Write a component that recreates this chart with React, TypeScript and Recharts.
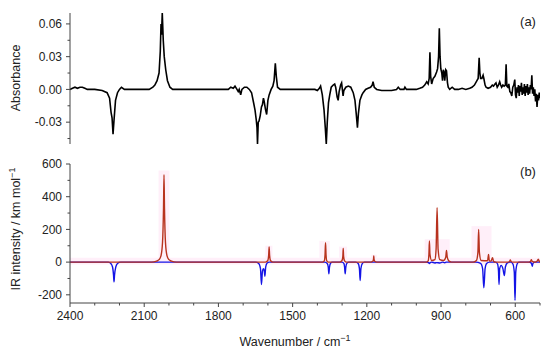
import { Line, LineChart, ReferenceArea, XAxis, YAxis } from "recharts";

// (a) measured difference spectrum: [wavenumber, absorbance]
const absorbance: [number, number][] = [
  [2400, 0.0], [2390, 0.001], [2380, 0.002], [2370, 0.001], [2360, 0.002], [2350, 0.002], [2340, 0.001],
  [2330, 0.0], [2300, 0.0], [2270, -0.001], [2250, -0.003], [2240, -0.008], [2234, -0.021], [2230, -0.026],
  [2226, -0.041], [2222, -0.028], [2216, -0.01], [2208, -0.003], [2200, 0.0], [2192, 0.002], [2180, 0.0],
  [2150, 0.0], [2100, 0.0], [2080, 0.0], [2065, 0.002], [2057, 0.004], [2048, 0.008], [2040, 0.015],
  [2035, 0.035], [2032, 0.06], [2030, 0.05], [2027, 0.07], [2023, 0.045], [2019, 0.03], [2013, 0.018],
  [2006, 0.008], [1996, 0.002], [1985, 0.0], [1900, 0.0], [1800, 0.0], [1760, 0.0], [1750, 0.002],
  [1740, 0.001], [1733, 0.003], [1725, 0.0], [1720, -0.002], [1716, 0.0], [1710, -0.005], [1705, 0.0],
  [1695, 0.002], [1685, 0.002], [1675, 0.0], [1666, -0.003], [1658, -0.012], [1652, -0.019], [1647, -0.028],
  [1644, -0.035], [1642, -0.05], [1639, -0.03], [1636, -0.029], [1631, -0.024], [1626, -0.016], [1622, -0.014],
  [1618, -0.008], [1615, -0.011], [1610, -0.018], [1605, -0.023], [1600, -0.01], [1595, -0.005], [1587, 0.0],
  [1580, 0.003], [1575, 0.008], [1570, 0.024], [1566, 0.012], [1561, 0.002], [1550, 0.0], [1500, 0.0],
  [1450, 0.0], [1410, 0.0], [1400, -0.001], [1392, 0.001], [1387, 0.003], [1380, -0.005], [1373, -0.019],
  [1368, -0.035], [1364, -0.05], [1360, -0.03], [1355, -0.012], [1350, -0.005], [1344, 0.002], [1336, 0.004],
  [1330, 0.005], [1326, 0.002], [1320, -0.007], [1316, -0.01], [1312, -0.002], [1306, 0.004], [1302, 0.006],
  [1299, 0.0], [1296, -0.006], [1293, -0.001], [1285, 0.002], [1275, 0.003], [1265, 0.002], [1255, -0.003],
  [1248, -0.01], [1243, -0.022], [1238, -0.035], [1234, -0.022], [1228, -0.01], [1220, -0.005], [1215, -0.003],
  [1205, 0.0], [1195, 0.001], [1185, 0.002], [1178, 0.004], [1175, 0.007], [1170, 0.002], [1160, 0.0],
  [1140, -0.001], [1120, -0.001], [1100, -0.001], [1080, 0.0], [1073, 0.002], [1065, 0.0], [1050, 0.0],
  [1046, 0.002], [1040, 0.0], [1020, 0.0], [1000, 0.0], [986, 0.001], [975, 0.002], [966, 0.004],
  [958, 0.007], [952, 0.005], [948, 0.01], [945, 0.034], [942, 0.012], [938, 0.005], [932, 0.01],
  [925, 0.012], [918, 0.016], [914, 0.019], [910, 0.03], [907, 0.056], [904, 0.03], [901, 0.019],
  [897, 0.015], [894, 0.008], [891, 0.018], [888, 0.016], [885, 0.008], [881, 0.018], [878, 0.017],
  [874, 0.006], [871, 0.002], [865, 0.0], [855, 0.002], [845, 0.0], [830, 0.0], [815, 0.001], [800, 0.0],
  [784, 0.001], [775, 0.002], [765, 0.004], [755, 0.008], [750, 0.01], [746, 0.029], [743, 0.015],
  [740, 0.01], [735, 0.01], [730, 0.013], [727, 0.01], [722, 0.004], [718, 0.002], [710, 0.001],
  [700, 0.002], [693, 0.004], [688, 0.003], [682, 0.005], [678, 0.006], [673, 0.002], [668, 0.004],
  [663, 0.007], [659, 0.004], [655, 0.002], [650, 0.004], [645, 0.003], [640, 0.004], [637, 0.023],
  [634, 0.003], [630, 0.002], [626, 0.005], [622, -0.002], [618, -0.003], [614, -0.006], [610, 0.002],
  [606, 0.004], [602, 0.009], [599, -0.005], [596, -0.008], [593, 0.002], [590, -0.003], [587, 0.004],
  [584, -0.006], [581, 0.003], [578, -0.002], [575, 0.006], [572, -0.005], [569, 0.002], [566, -0.004],
  [563, 0.005], [560, -0.006], [557, 0.003], [554, -0.003], [551, 0.005], [548, -0.005], [545, 0.002],
  [542, -0.004], [539, 0.004], [536, 0.0], [533, 0.013], [530, -0.004], [527, 0.002], [524, -0.006],
  [521, 0.0], [518, -0.011], [515, -0.004], [512, -0.016], [509, -0.005], [506, -0.01], [503, -0.003],
  [500, -0.008],
];

// (b) calculated spectrum, positive bands (red)
const calcPositive: [number, number][] = [
  [2400, 0], [2070, 0], [2050, 6], [2040, 15], [2032, 40], [2026, 120], [2022, 330], [2020, 534],
  [2018, 330], [2014, 120], [2008, 40], [2000, 15], [1990, 6], [1970, 0],
  [1610, 0], [1601, 8], [1597, 40], [1595, 92], [1593, 40], [1589, 8], [1580, 0],
  [1380, 0], [1372, 8], [1369, 45], [1367, 118], [1365, 45], [1362, 8], [1355, 0],
  [1310, 0], [1301, 8], [1297, 35], [1295.5, 84], [1294, 35], [1290, 8], [1282, 0],
  [1185, 0], [1176, 5], [1173, 18], [1172, 37], [1171, 18], [1168, 5], [1160, 0],
  [960, 0], [952, 8], [949, 50], [947, 129], [945, 50], [938, 10], [925, 15], [920, 80], [916, 333],
  [912, 80], [905, 15], [890, 10], [881, 30], [878, 72], [875, 30], [868, 6], [858, 0],
  [770, 0], [757, 10], [751, 60], [748, 200], [745, 60], [738, 10], [712, 8], [708, 47], [705, 8],
  [698, 6], [692, 27], [688, 6], [680, 0],
  [630, 0], [623, 4], [620, 14], [617, 4], [610, 0],
  [545, 0], [538, 5], [535, 15], [532, 5], [520, 0], [512, 5], [507, 18], [503, 5], [500, 0],
];

// (b) calculated spectrum, negative bands (blue)
const calcNegative: [number, number][] = [
  [2400, 0], [2245, 0], [2235, -8], [2228, -30], [2224, -80], [2222, -121], [2220, -80], [2215, -30],
  [2208, -8], [2195, 0],
  [1650, 0], [1637, -8], [1630, -40], [1626, -137], [1622, -55], [1618, -40], [1615, -50], [1612, -86],
  [1609, -30], [1603, -5], [1595, 0],
  [1370, 0], [1360, -8], [1356, -30], [1353.5, -72], [1351, -30], [1346, -5], [1340, 0],
  [1300, 0], [1293, -8], [1290, -30], [1287.5, -72], [1285, -30], [1280, -5], [1272, 0],
  [1245, 0], [1235, -8], [1230, -40], [1227, -112], [1224, -40], [1218, -8], [1210, 0],
  [960, 0], [951, -3], [947, -8], [944, -3], [938, 0], [925, -5], [918, -3], [905, -5], [895, 0],
  [885, -4], [878, 0],
  [760, 0], [740, -8], [732, -40], [727, -157], [722, -40], [716, -8], [705, 0],
  [680, 0], [672, -10], [668, -50], [665.5, -137], [663, -40], [657, -20], [650, -40], [644, -82],
  [640, -30], [632, -5], [622, 0],
  [618, 0], [610, -10], [604, -60], [601, -235], [598, -60], [592, -10], [585, 0],
  [545, 0], [536, -5], [533, -15], [531, -25], [529, -10], [522, 0], [500, 0],
];

// faint pink shading behind the calculated bands: [from, to, top, bottom]
const shading: [number, number, number, number][] = [
  [2400, 500, 27, -14],
  [2042, 1998, 560, 27],
  [1610, 1582, 100, 27],
  [1392, 1350, 130, 27],
  [1312, 1280, 95, 27],
  [1182, 1160, 45, 27],
  [966, 865, 140, 27],
  [777, 696, 220, 27],
];

const xTicks = [2400, 2300, 2200, 2100, 2000, 1900, 1800, 1700, 1600, 1500, 1400, 1300, 1200, 1100, 1000, 900, 800, 700, 600, 500];
const xMajor = [2400, 2100, 1800, 1500, 1200, 900, 600];
const absTicks = [-0.045, -0.03, -0.015, 0, 0.015, 0.03, 0.045, 0.06];
const absMajor = [-0.03, 0, 0.03, 0.06];
const irTicks = [-200, -100, 0, 100, 200, 300, 400, 500, 600];
const irMajor = [-200, 0, 200, 400, 600];

const FONT = '"Liberation Sans", Arial, sans-serif';
const AXIS = "#444";

const toRows = (pts: [number, number][]) => pts.map(([wn, v]) => ({ wn, v }));
const near = (list: number[], v: number) => list.some((m) => Math.abs(m - v) < 1e-9);

function XTick({ x, y, payload }: any) {
  const major = near(xMajor, payload.value);
  return (
    <g>
      <line x1={x} x2={x} y1={y} y2={y + (major ? 4 : 2.5)} stroke={AXIS} />
      {major && (
        <text x={x} y={y + 17} textAnchor="middle" fontSize={12} fontFamily={FONT} fill="#222">
          {payload.value}
        </text>
      )}
    </g>
  );
}

function makeYTick(majors: number[], fmt: (v: number) => string) {
  return function YTick({ x, y, payload }: any) {
    const major = near(majors, payload.value);
    return (
      <g>
        <line x1={x - (major ? 4 : 2.5)} x2={x} y1={y} y2={y} stroke={AXIS} />
        {major && (
          <text x={x - 8} y={y + 4.2} textAnchor="end" fontSize={12} fontFamily={FONT} fill="#222">
            {fmt(payload.value)}
          </text>
        )}
      </g>
    );
  };
}

const AbsTick = makeYTick(absMajor, (v) => (Math.abs(v) < 1e-9 ? "0.00" : v.toFixed(2)));
const IrTick = makeYTick(irMajor, (v) => String(v));

export default function App() {
  return (
    <div style={{ position: "absolute", left: 0, top: 0, width: 550, height: 351, background: "#fff" }}>
      <div style={{ position: "absolute", left: 0, top: 0 }}>
        <LineChart width={550} height={150} margin={{ top: 13, right: 10, bottom: 6, left: 0 }}>
          <XAxis dataKey="wn" type="number" domain={[500, 2400]} reversed hide allowDataOverflow />
          <YAxis
            type="number"
            domain={[-0.05, 0.07]}
            ticks={absTicks}
            width={70}
            tickSize={0}
            tickMargin={0}
            tick={<AbsTick />}
            tickLine={false}
            axisLine={{ stroke: AXIS }}
            allowDataOverflow
            interval={0}
          />
          <Line
            data={toRows(absorbance)}
            dataKey="v"
            type="linear"
            stroke="#000"
            strokeWidth={1.6}
            dot={false}
            isAnimationActive={false}
          />
        </LineChart>
      </div>
      <div style={{ position: "absolute", left: 0, top: 150 }}>
        <LineChart width={550} height={201} margin={{ top: 14, right: 10, bottom: 0, left: 0 }}>
          <XAxis
            dataKey="wn"
            type="number"
            domain={[500, 2400]}
            reversed
            ticks={xTicks}
            interval={0}
            height={48}
            tickSize={0}
            tickMargin={0}
            tick={<XTick />}
            tickLine={false}
            axisLine={{ stroke: AXIS }}
            allowDataOverflow
          />
          <YAxis
            type="number"
            domain={[-250, 600]}
            ticks={irTicks}
            width={70}
            tickSize={0}
            tickMargin={0}
            tick={<IrTick />}
            tickLine={false}
            axisLine={{ stroke: AXIS }}
            allowDataOverflow
            interval={0}
          />
          {shading.map(([x1, x2, top, bottom], i) => (
            <ReferenceArea
              key={i}
              x1={x1}
              x2={x2}
              y1={bottom}
              y2={top}
              fill="#ff5fc8"
              fillOpacity={0.1}
              stroke="none"
            />
          ))}
          <Line
            data={toRows(calcNegative)}
            dataKey="v"
            type="monotone"
            stroke="#1414e6"
            strokeWidth={1.4}
            dot={false}
            isAnimationActive={false}
          />
          <Line
            data={toRows(calcPositive)}
            dataKey="v"
            type="monotone"
            stroke="#b8321e"
            strokeWidth={1.4}
            dot={false}
            isAnimationActive={false}
          />
        </LineChart>
      </div>
      <svg
        width={550}
        height={351}
        style={{ position: "absolute", left: 0, top: 0, pointerEvents: "none" }}
        fontFamily={FONT}
        fill="#222"
      >
        <text x={528} y={26} fontSize={13} textAnchor="middle">(a)</text>
        <text x={528} y={176} fontSize={13} textAnchor="middle">(b)</text>
        <text transform="translate(19.5,78) rotate(-90)" fontSize={12.5} textAnchor="middle">Absorbance</text>
        <text transform="translate(19.5,229) rotate(-90)" fontSize={12.5} textAnchor="middle">
          IR intensity / km mol<tspan dy={-5} fontSize={9}>−1</tspan>
        </text>
        <text x={295} y={346} fontSize={12.5} textAnchor="middle">
          Wavenumber / cm<tspan dy={-5} fontSize={9}>−1</tspan>
        </text>
      </svg>
    </div>
  );
}
